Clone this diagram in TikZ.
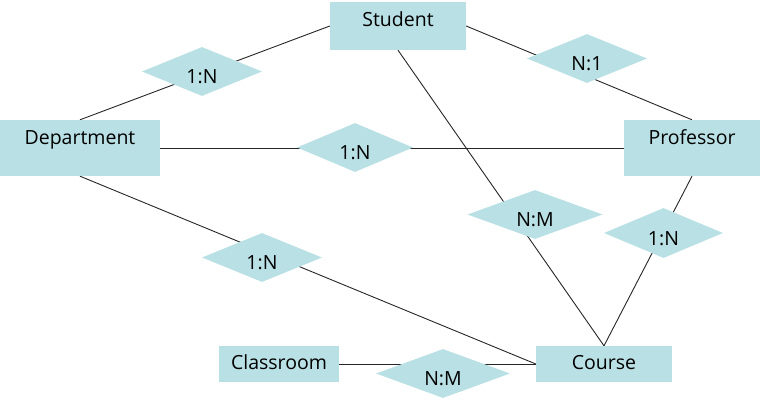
\documentclass[tikz,border=0pt]{standalone}
\usepackage{fontspec}
\setmainfont{Open Sans}
\usetikzlibrary{shapes.geometric}
\pgfdeclarelayer{background}
\pgfsetlayers{background,main}
\definecolor{boxfill}{RGB}{185,224,228}
\tikzset{
  entity/.style={rectangle, fill=boxfill, draw=none, inner sep=0pt, font=\fontsize{19.5}{22}\selectfont},
  rel/.style={diamond, fill=boxfill, draw=none, inner sep=0pt, aspect=2.4, text height=24pt, text depth=0pt, font=\fontsize{19.5}{22}\selectfont},
  link/.style={draw=black!85, line width=0.9pt}
}
\begin{document}
\begin{tikzpicture}[x=1pt,y=-1pt]
\useasboundingbox (0,0) rectangle (760,404);
% entities
\node[entity, minimum width=136pt, minimum height=48pt, text height=25pt, text depth=23pt] (student) at (398,26) {Student};
\node[entity, minimum width=160pt, minimum height=56pt, text height=24pt, text depth=32pt] (dept) at (80,148) {Department};
\node[entity, minimum width=136pt, minimum height=56pt, text height=24pt, text depth=32pt] (prof) at (692,148) {Professor};
\node[entity, minimum width=120pt, minimum height=36pt, text height=23pt, text depth=13pt] (room) at (279,364) {Classroom};
\node[entity, minimum width=136pt, minimum height=36pt, text height=23pt, text depth=13pt] (course) at (604,364) {Course};
% relationships
\node[rel, minimum width=120pt, minimum height=49pt] (r1) at (202,71.5) {1:N};
\node[rel, minimum width=116pt, minimum height=49pt] (r2) at (355,147.5) {1:N};
\node[rel, minimum width=120pt, minimum height=49pt] (r3) at (587,58.5) {N:1};
\node[rel, minimum width=135pt, minimum height=49pt] (r4) at (535,214.5) {N:M};
\node[rel, minimum width=119pt, minimum height=50pt] (r5) at (663.5,233) {1:N};
\node[rel, minimum width=120pt, minimum height=49pt] (r6) at (262,257.5) {1:N};
\node[rel, minimum width=134pt, minimum height=49pt] (r7) at (443,373.5) {N:M};
% connectors
\begin{pgfonlayer}{background}
\draw[link] (dept.north) -- (student.west);
\draw[link] (student.east) -- (prof.north);
\draw[link] (dept.east) -- (prof.west);
\draw[link] (student.south) -- (course.north);
\draw[link] (prof.south) -- (course.north);
\draw[link] (dept.south) -- (course.west);
\draw[link] (room.east) -- (course.west);
\end{pgfonlayer}
\end{tikzpicture}
\end{document}
